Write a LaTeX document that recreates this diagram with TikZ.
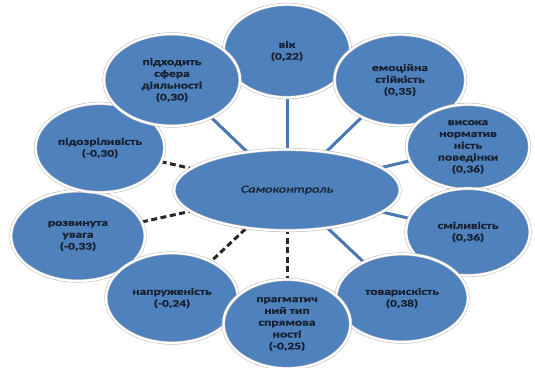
\documentclass[tikz,border=0pt]{standalone}
\usepackage{fontspec}
\newfontfamily\lblfont{Carlito}[FakeStretch=1.35,FakeBold=1.2]
\usetikzlibrary{shapes.geometric,backgrounds}
\definecolor{nodeblue}{HTML}{4F81BD}
\definecolor{linkblue}{HTML}{4878B2}
\definecolor{txtcol}{HTML}{172130}
\begin{document}
\begin{tikzpicture}[x=1pt,y=-1pt,
  bubble/.style={ellipse, fill=nodeblue, draw=gray!55, double=white, double distance=2.2pt,
    line width=0.5pt, inner sep=0pt, align=center,
    font=\lblfont\bfseries\fontsize{10}{11.8}\selectfont, text=txtcol},
  poslink/.style={draw=linkblue, line width=3pt},
  neglink/.style={draw=black!85, line width=3pt, dash pattern=on 6pt off 3.5pt}]
\useasboundingbox (0,0) rectangle (535,367);

\node[bubble, minimum width=226pt, minimum height=81pt,
  font=\lblfont\itshape\fontsize{10.5}{12}\selectfont] (c) at (287,190) {Самоконтроль};

\node[bubble, minimum width=127pt, minimum height=93pt] (vik) at (287,51) {вік\\(0,22)};
\node[bubble, minimum width=131pt, minimum height=91pt] (emo) at (400,80) {емоційна\\стійкість\\(0,35)};
\node[bubble, minimum width=123pt, minimum height=85pt] (norm) at (468,147) {висока\\норматив\\ність\\поведінки\\(0,36)};
\node[bubble, minimum width=124pt, minimum height=87pt] (smil) at (468,232) {сміливість\\(0,36)};
\node[bubble, minimum width=132pt, minimum height=88pt] (tov) at (402,298) {товарискість\\(0,38)};
\node[bubble, minimum width=134pt, minimum height=90pt] (uvaga) at (78,236) {розвинута\\увага\\(-0,33)};
\node[bubble, minimum width=132pt, minimum height=90pt] (napr) at (172,298) {напруженість\\(-0,24)};
\node[bubble, minimum width=127pt, minimum height=89pt] (prag) at (287,324) {прагматич\\ний тип\\спрямова\\ності\\(-0,25)};
\node[bubble, minimum width=129pt, minimum height=89pt] (pidoz) at (100,148) {підозріливість\\(-0,30)};
\node[bubble, minimum width=136pt, minimum height=92pt] (sfera) at (172,80) {підходить\\сфера\\діяльності\\(0,30)};

\begin{scope}[on background layer]
\fill[white] (0,0) rectangle (535,367);
\draw[poslink] (c.center) -- (vik.center);
\draw[poslink] (c.center) -- (emo.center);
\draw[poslink] (c.center) -- (norm.center);
\draw[poslink] (c.center) -- (smil.center);
\draw[poslink] (c.center) -- (tov.center);
\draw[poslink] (c.center) -- (sfera.center);
\draw[neglink] (c.center) -- (prag.center);
\draw[neglink] (c.center) -- (napr.center);
\draw[neglink] (c.center) -- (uvaga.center);
\draw[neglink] (c.center) -- (pidoz.center);
\end{scope}
\end{tikzpicture}
\end{document}
